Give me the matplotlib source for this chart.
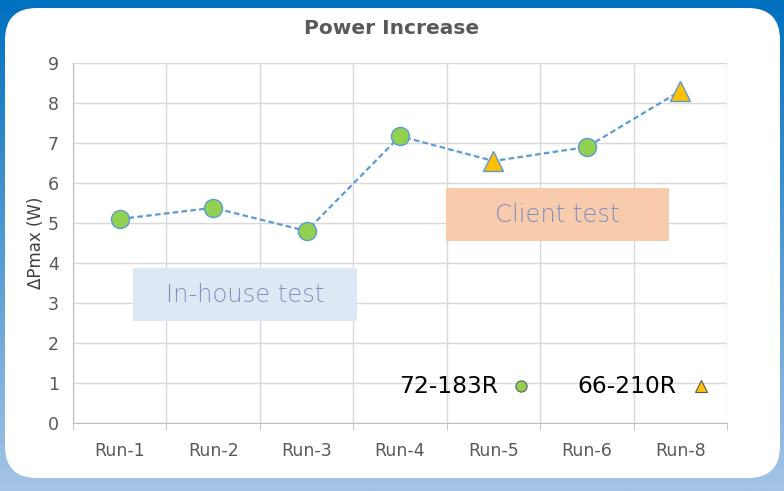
import numpy as np
import matplotlib.pyplot as plt
from matplotlib.patches import FancyBboxPatch, Rectangle

runs = ['Run-1', 'Run-2', 'Run-3', 'Run-4', 'Run-5', 'Run-6', 'Run-8']
dpmax = [5.1, 5.38, 4.8, 7.17, 6.55, 6.9, 8.3]
batch = ['72-183R', '72-183R', '72-183R', '72-183R', '66-210R', '72-183R', '66-210R']

fig = plt.figure(figsize=(7.84, 4.91), dpi=100)

# blue gradient frame
bg = fig.add_axes([0, 0, 1, 1])
grad = np.linspace(0, 1, 256).reshape(-1, 1)
c1 = np.array([0x00, 0x70, 0xC0]) / 255
c2 = np.array([0xA4, 0xC4, 0xE6]) / 255
img = c1 + (c2 - c1) * grad[..., None]
bg.imshow(img, aspect='auto', extent=[0, 784, 491, 0])
bg.set_xlim(0, 784)
bg.set_ylim(491, 0)
bg.axis('off')
bg.add_patch(FancyBboxPatch((5, 8), 775, 470, boxstyle='round,pad=0,rounding_size=32',
                            fc='white', ec='none'))

ax = fig.add_axes([73 / 784, 1 - 423 / 491, 654 / 784, 360 / 491])
x = np.arange(len(runs))
ax.plot(x, dpmax, ls=(0, (2.5, 1.5)), color='#5B9BD5', lw=1.6, zorder=3)
for i, (v, b) in enumerate(zip(dpmax, batch)):
    if b == '72-183R':
        ax.plot(i, v, 'o', ms=13, mfc='#92D050', mec='#5B9BD5', mew=1, zorder=4)
    else:
        ax.plot(i, v, '^', ms=14, mfc='#FFC000', mec='#5B9BD5', mew=1, zorder=4)

ax.set_xlim(-0.5, len(runs) - 0.5)
ax.set_ylim(0, 9)
ax.set_yticks(range(10))
ax.set_xticks(x)
ax.set_xticklabels(runs)
ax.set_xticks(np.arange(-0.5, len(runs), 1), minor=True)
ax.grid(True, which='minor', axis='x', color='#D9D9D9', lw=1)
ax.grid(True, which='major', axis='y', color='#D9D9D9', lw=1)
ax.tick_params(axis='x', which='major', length=0, pad=14, labelsize=12.5, labelcolor='#595959')
ax.tick_params(axis='x', which='minor', length=5, color='#BFBFBF')
ax.tick_params(axis='y', length=0, pad=10, labelsize=12.5, labelcolor='#595959')
for s in ['top', 'right']:
    ax.spines[s].set_visible(False)
ax.spines['left'].set_color('#BFBFBF')
ax.spines['bottom'].set_color('#BFBFBF')
ax.set_ylabel('ΔPmax (W)', fontsize=12, color='#404040', labelpad=2)
ax.set_axisbelow(True)

# annotation boxes
ax.add_patch(Rectangle((0.14, 2.55), 2.4, 1.32, fc='#DEE8F4', ec='none', zorder=2))
ax.text(1.34, 3.2, 'In-house test', ha='center', va='center', fontsize=17.5,
        color='#7F93C0', family='DejaVu Sans', fontweight='light', zorder=5)
ax.add_patch(Rectangle((3.49, 4.55), 2.39, 1.32, fc='#F8CBAD', ec='none', zorder=2))
ax.text(4.68, 5.2, 'Client test', ha='center', va='center', fontsize=17.5,
        color='#7F8FBF', family='DejaVu Sans', fontweight='light', zorder=5)

# legend-like labels
ax.text(4.05, 0.92, '72-183R', ha='right', va='center', fontsize=16.8, color='black')
ax.plot(4.295, 0.92, 'o', ms=8, mfc='#92D050', mec='#595959', mew=0.8)
ax.text(5.96, 0.92, '66-210R', ha='right', va='center', fontsize=16.8, color='black')
ax.plot(6.22, 0.92, '^', ms=8, mfc='#FFC000', mec='#595959', mew=0.8)

fig.text(0.5, 1 - 28 / 491, 'Power Increase', ha='center', va='center', fontsize=14.5,
         fontweight='bold', color='#595959', family='DejaVu Sans')

fig.savefig('out.png', dpi=100)
